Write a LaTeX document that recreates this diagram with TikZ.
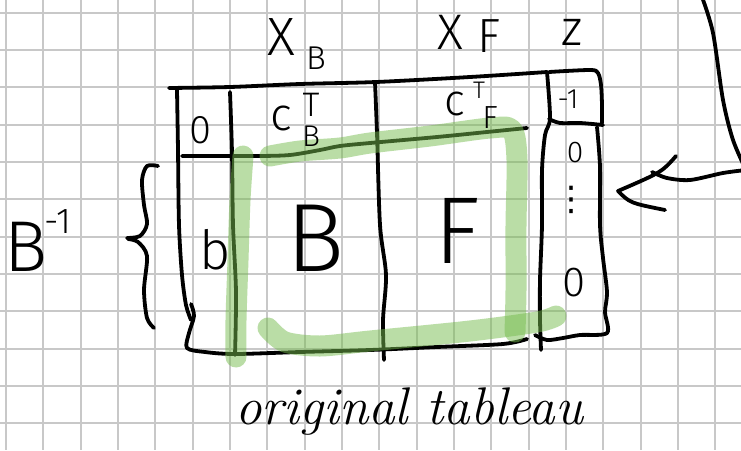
\documentclass[tikz,border=0pt]{standalone}
\usepackage{fontspec}
\newfontfamily\hand{Fira Sans Light}
\newfontfamily\symb{DejaVu Sans}
\definecolor{gridgray}{RGB}{200,200,200}
\definecolor{hlgreen}{RGB}{118,188,78}
\begin{document}
\begin{tikzpicture}[x=1pt,y=-1pt,
  ink/.style={line width=3.8pt, line cap=round, line join=round, draw=black},
  hl/.style={line width=21pt, line cap=round, line join=round, draw=hlgreen, opacity=0.5},
  txt/.style={inner sep=0pt, text=black},
  fs/.style={font=\hand\fontsize{#1}{#1}\selectfont}]
\useasboundingbox (0,0) rectangle (741,450);
\clip (0,0) rectangle (741,450);
\fill[white] (0,0) rectangle (741,450);

% squared paper
\foreach \k in {0,...,19} \draw[gridgray, line width=2pt] (6+37.33*\k,0) -- (6+37.33*\k,450);
\foreach \k in {0,...,11} \draw[gridgray, line width=2pt] (0,12.7+37.33*\k) -- (741,12.7+37.33*\k);

% tableau frame
\draw[ink] plot[smooth] coordinates {(169,88) (230,87) (300,84) (376,82) (470,77) (547,72)};
\draw[ink] plot[smooth] coordinates {(549,72) (590,70) (598,73) (601,85) (602,105) (602,123)};
\draw[ink] plot[smooth] coordinates {(177,90) (178,150) (179,225) (182,275) (186,305) (191,320)};
\draw[ink] plot[smooth] coordinates {(191,304) (194,316) (189,333) (187,348) (205,352) (235,354) (300,352) (370,350) (437,347) (503,344) (527,339)};
\draw[ink] plot[smooth] coordinates {(230,92) (232,153) (233,225) (236,292) (235,355)};
\draw[ink] plot[smooth] coordinates {(182,156) (230,156) (260,156) (290,155) (320,150) (340,146) (370,143) (437,137) (487,132) (527,128)};
\draw[ink] plot[smooth] coordinates {(549,119) (560,123) (580,123) (603,125)};
\draw[ink] plot[smooth] coordinates {(375,82) (377,133) (380,225) (386,275) (383,320) (384,360)};
\draw[ink] plot[smooth] coordinates {(547,72) (550,118) (545,135) (542,170) (542,225) (540,280) (540,320) (541,350)};
\draw[ink] plot[smooth] coordinates {(597,127) (600,167) (600,225) (603,258) (607,292) (605,312) (607,333) (580,335) (563,338) (547,340) (535,335)};

% brace
\draw[ink] plot[smooth] coordinates {(158,166) (147,166) (142,180) (144,205) (147,224) (140,236) (127,238)};
\draw[ink] plot[smooth] coordinates {(128,239) (138,242) (147,256) (144,290) (147,318) (154,328)};

% arrow from the right
\coordinate (arrTop) at (702,-3);
\coordinate (arrTurn) at (746,170);
\coordinate (arrTip) at (618,191);
\draw[ink] plot[smooth] coordinates {(arrTop) (713,33) (723,100) (733,140) (arrTurn)};
\draw[ink] plot[smooth] coordinates {(arrTurn) (723,173) (690,180) (667,178) (652,172)};
\draw[ink] (676,156) .. controls (662,172) .. (arrTip) .. controls (630,203) .. (665,210);

% green highlight around B and F
\draw[hl] plot[smooth] coordinates {(243,156) (240,200) (238,260) (236,320) (236,357)};
\draw[hl] plot[smooth] coordinates {(270,156) (300,151) (340,148) (370,143) (430,136) (490,128) (512,130) (517,160) (516,225) (516,290) (515,332)};
\draw[hl] plot[smooth] coordinates {(268,328) (285,342) (320,346) (370,341) (470,331) (537,322) (556,316)};

% labels above the columns
\node[txt, fs=54] (xb) at (281,37) {X};
\node[txt, fs=33] (xbsub) at (316,58) {B};
\node[txt, fs=50] (xf) at (450,32) {X};
\node[txt, fs=48] (xfsub) at (489,36) {F};
\node[txt, fs=50] (z) at (572,32) {z};

% cost row
\node[txt, fs=40] (zero0) at (200,130) {0};
\node[txt, fs=46] (cb) at (281,118) {c};
\node[txt, fs=34] (cbT) at (311,105) {T};
\node[txt, fs=30] (cbB) at (311,136) {B};
\node[txt, fs=44] (cf) at (455,104) {c};
\node[txt, fs=24] (cfT) at (479,90) {T};
\node[txt, fs=32] (cfF) at (490,118) {F};
\node[txt, fs=28] (m1) at (568,99) {-1};

% body
\node[txt, fs=54] (b) at (215,250) {b};
\node[txt, fs=97] (B) at (315,238) {B};
\node[txt, fs=95] (F) at (457,231) {F};
\node[txt, fs=30] (z1) at (575,153) {0};
\node[txt, font=\symb\fontsize{34}{34}\selectfont] (zd) at (571,200) {⋮};
\node[txt, fs=42] (z2) at (574,283) {0};

% B inverse on the left
\node[txt, fs=72] (Binv) at (26,247) {B};
\node[txt, fs=36] (Binvexp) at (58,222) {-1};

% caption
\node[txt, anchor=base, font=\fontsize{53}{60}\selectfont\itshape] (cap) at (409,424) {original tableau};
\end{tikzpicture}
\end{document}
